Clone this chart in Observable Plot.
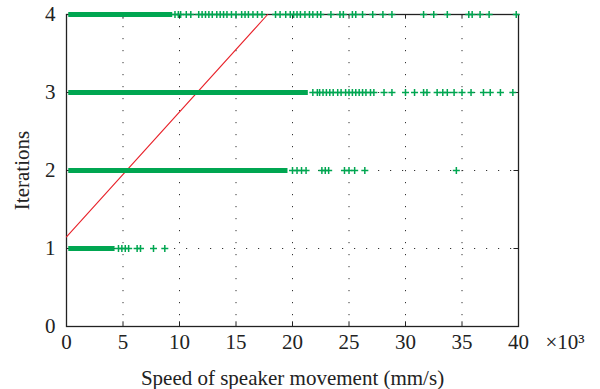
<!DOCTYPE html>
<html><head><meta charset="utf-8">
<script src="https://cdn.jsdelivr.net/npm/d3@7"></script>
<script src="https://cdn.jsdelivr.net/npm/@observablehq/plot@0.6"></script>
<style>body{margin:0;background:#fff}</style>
</head><body><div id="chart"></div>
<script>
// Tick labels / grid
const xTicks = [0, 5, 10, 15, 20, 25, 30, 35, 40];
const yTicks = [0, 1, 2, 3, 4];
const xGrid = [5, 10, 15, 20, 25, 30, 35];
const yGrid = [1, 2, 3];

// Iteration levels with dense runs of samples (speed ×10^3 mm/s)
const levels = [1, 2, 3, 4];
const denseStart = [0.2, 0.2, 0.2, 0.2];
const denseEnd = [4.3, 19.6, 21.4, 9.4];

// Sparse individual samples per level
const sparse1 = [4.6, 4.9, 5.2, 5.5, 6.25, 6.55, 7.7, 8.7];
const sparse2 = [20.0, 20.4, 20.8, 21.2, 22.6, 22.9, 23.2, 24.6, 25.0, 25.5, 26.4, 34.5];
const sparse3 = [21.8, 22.2, 22.4, 22.7, 23.0, 23.3, 23.6, 24.0, 24.3, 24.7, 25.0, 25.3, 25.6, 25.9, 26.2, 26.5, 26.9, 27.2,
                 28.1, 28.8, 30.0, 30.8, 31.6, 31.9, 32.8, 33.3, 33.7, 34.3, 35.0, 35.8, 36.9, 37.5, 38.4, 39.5];
const sparse4 = [9.6, 9.9, 10.1, 10.6, 11.0, 11.7, 12.0, 12.3, 12.6, 12.9, 13.3, 13.6, 13.9, 14.2, 14.6, 15.0, 15.5, 15.8,
                 16.1, 16.5, 16.9, 17.3, 18.5, 18.9, 19.4, 19.8, 20.1, 20.4, 20.7, 21.1, 21.5, 21.8, 22.2, 22.5, 23.4,
                 24.2, 24.5, 25.3, 25.6, 26.2, 27.1, 28.0, 28.8, 31.6, 32.5, 33.7, 35.6, 35.9, 36.6, 37.4, 39.8];

// Red threshold line
const trendX = [0, 17.8];
const trendY = [1.15, 4];

const dense = levels.map((l, i) => ({level: l, start: denseStart[i], end: denseEnd[i]}));
const sparse = [sparse1, sparse2, sparse3, sparse4].flatMap((arr, i) => arr.map(x => ({x, level: levels[i]})));
const trend = trendX.map((x, i) => ({x, y: trendY[i]}));

const green = "#00a651";
const red = "#e8232b";
const font = "Liberation Serif";

const plot = Plot.plot({
  width: 600,
  height: 389,
  marginLeft: 66,
  marginRight: 82,
  marginTop: 14,
  marginBottom: 63,
  style: {fontFamily: font, fontSize: "21px", background: "#fff", color: "#222"},
  x: {domain: [0, 40]},
  y: {domain: [0, 4]},
  marks: [
    Plot.ruleX(xGrid, {stroke: "#333", strokeDasharray: "1.2,10.8", strokeWidth: 1}),
    Plot.ruleY(yGrid, {stroke: "#333", strokeDasharray: "1.2,10.8", strokeWidth: 1}),
    Plot.ruleX(xTicks, {y1: 0, y2: 0.06, stroke: "#222"}),
    Plot.ruleX(xTicks, {y1: 4, y2: 3.94, stroke: "#222"}),
    Plot.ruleY(yTicks, {x1: 0, x2: 0.4, stroke: "#222"}),
    Plot.ruleY(yTicks, {x1: 40, x2: 39.6, stroke: "#222"}),
    Plot.frame({stroke: "#222", strokeWidth: 1.3}),
    Plot.line(trend, {x: "x", y: "y", stroke: red, strokeWidth: 1.1}),
    Plot.ruleY(dense, {y: "level", x1: "start", x2: "end", stroke: green, strokeWidth: 5}),
    Plot.dot(sparse, {x: "x", y: "level", symbol: "plus", r: 2.4, stroke: green, strokeWidth: 1.5}),
    Plot.axisX({ticks: xTicks, tickSize: 0, tickPadding: 8, tickFormat: d => d, fontSize: 21,
      label: "Speed of speaker movement (mm/s)", labelAnchor: "center", labelOffset: 58, labelArrow: "none"}),
    Plot.axisY({ticks: yTicks, tickSize: 0, tickPadding: 11, tickFormat: d => d, fontSize: 21,
      label: "Iterations", labelAnchor: "center", labelOffset: 52, labelArrow: "none"}),
    Plot.text(["×10³"], {frameAnchor: "bottom-right", text: d => d, textAnchor: "start", lineAnchor: "top",
      dx: 27, dy: 8, fill: "#222", fontSize: 21})
  ]
});
document.getElementById("chart").appendChild(plot);
</script>
</body></html>
